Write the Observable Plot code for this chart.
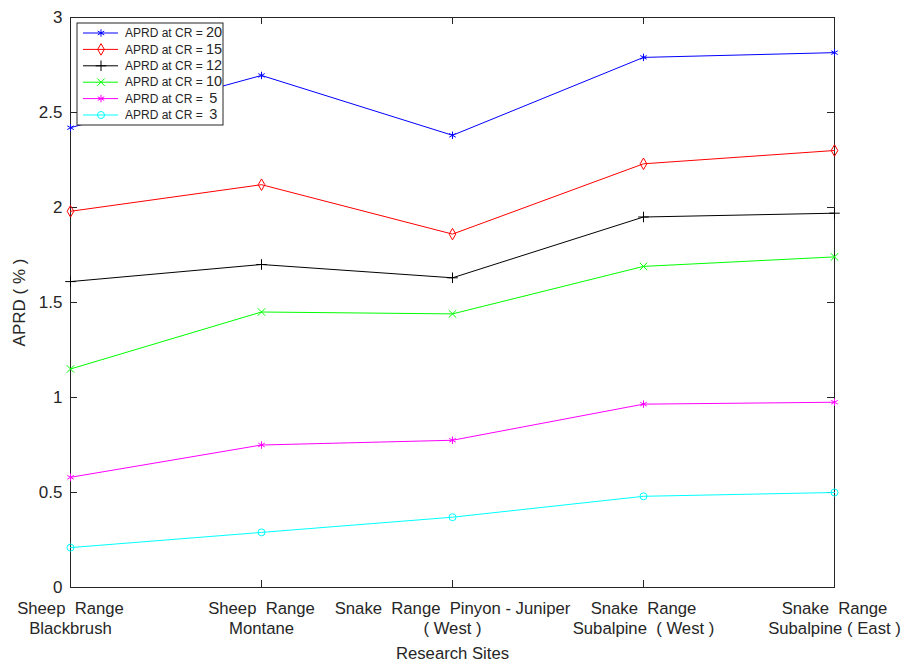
<!DOCTYPE html>
<html>
<head>
<meta charset="utf-8">
<script src="https://cdn.jsdelivr.net/npm/d3@7"></script>
<script src="https://cdn.jsdelivr.net/npm/@observablehq/plot@0.6"></script>
<style>
  html, body { margin: 0; padding: 0; background: #fff; }
  #chart { position: relative; width: 901px; height: 661px; }
</style>
</head>
<body>
<div id="chart"></div>
<script>
const sites = [
  "Sheep  Range\nBlackbrush",
  "Sheep  Range\nMontane",
  "Snake  Range  Pinyon - Juniper\n( West )",
  "Snake  Range\nSubalpine  ( West )",
  "Snake  Range\nSubalpine ( East )"
];
const siteIndex = [1, 2, 3, 4, 5];
const cr20 = [2.42, 2.695, 2.38, 2.79, 2.815];
const cr15 = [1.98, 2.12, 1.86, 2.23, 2.30];
const cr12 = [1.61, 1.70, 1.63, 1.95, 1.97];
const cr10 = [1.15, 1.45, 1.44, 1.69, 1.74];
const cr5  = [0.58, 0.75, 0.775, 0.965, 0.975];
const cr3  = [0.21, 0.29, 0.37, 0.48, 0.50];
const seriesNames = ["APRD at CR = 20", "APRD at CR = 15", "APRD at CR = 12", "APRD at CR = 10", "APRD at CR =  5", "APRD at CR =  3"];
const seriesValues = [cr20, cr15, cr12, cr10, cr5, cr3];
const seriesColors = ["#0000ff", "#ff0000", "#000000", "#00ff00", "#ff00ff", "#00ffff"];
const seriesSymbols = ["asterisk", "diamond", "plus", "times", "asterisk", "circle"];
const yTicks = [0, 0.5, 1, 1.5, 2, 2.5, 3];

const W = 901, H = 661;
const mL = 70, mR = 67, mT = 17, mB = 74;
const pw = W - mL - mR, ph = H - mT - mB;
const font = "'Liberation Sans', Arial, sans-serif";

const marks = [];
seriesValues.forEach((vals, k) => {
  const rows = vals.map((v, i) => ({x: siteIndex[i], y: v}));
  marks.push(Plot.line(rows, {x: "x", y: "y", stroke: seriesColors[k], strokeWidth: 1}));
  marks.push(Plot.dot(rows, {x: "x", y: "y", symbol: () => seriesSymbols[k], stroke: seriesColors[k], fill: "none", r: 3.5, strokeWidth: 1}));
});

const plot = Plot.plot({
  width: W, height: H,
  marginLeft: mL, marginRight: mR, marginTop: mT, marginBottom: mB,
  style: {fontFamily: font, fontSize: "17px", color: "#262626", background: "#fff"},
  x: {domain: [1, 5]},
  y: {domain: [0, 3]},
  symbol: {type: "identity"},
  marks: [
    Plot.axisY(yTicks, {anchor: "left", tickSize: 0, tickPadding: 8, fontSize: 17, tickFormat: d => String(d),
      label: "APRD ( % )", labelAnchor: "center", labelOffset: 58, labelArrow: "none"}),
    Plot.axisX(siteIndex, {anchor: "bottom", tickSize: 0, tickPadding: 13, fontSize: 16.7, lineHeight: 1.17,
      tickFormat: i => sites[i - 1], label: "Research Sites", labelAnchor: "center", labelOffset: 71, labelArrow: "none"}),
    Plot.tickY(yTicks, {y: d => d, insetRight: pw - 7, stroke: "#262626"}),
    Plot.tickY(yTicks, {y: d => d, insetLeft: pw - 7, stroke: "#262626"}),
    Plot.tickX(siteIndex, {x: d => d, insetTop: ph - 7, stroke: "#262626"}),
    Plot.tickX(siteIndex, {x: d => d, insetBottom: ph - 7, stroke: "#262626"}),
    Plot.frame({stroke: "#262626", strokeWidth: 1}),
    ...marks
  ]
});
document.getElementById("chart").appendChild(plot);

// legend inside the plot area
const svg = d3.select(plot);
const lg = svg.append("g").attr("transform", "translate(77,23)");
lg.append("rect").attr("x", 0).attr("y", 0).attr("width", 146).attr("height", 102)
  .attr("fill", "#fff").attr("stroke", "#262626").attr("stroke-width", 1);
const symMap = {asterisk: d3.symbolAsterisk, diamond: d3.symbolDiamond, plus: d3.symbolPlus, times: d3.symbolTimes, circle: d3.symbolCircle};
seriesNames.forEach((name, k) => {
  const yy = 10 + k * 16.4;
  lg.append("line").attr("x1", 6).attr("x2", 41).attr("y1", yy).attr("y2", yy)
    .attr("stroke", seriesColors[k]).attr("stroke-width", 1);
  lg.append("path").attr("transform", `translate(24,${yy})`)
    .attr("d", d3.symbol(symMap[seriesSymbols[k]], 3.5 * 3.5 * Math.PI)())
    .attr("fill", "none").attr("stroke", seriesColors[k]).attr("stroke-width", 1);
  const m = name.match(/^(.*=)(\s*)(\d+)$/);
  const t = lg.append("text").attr("x", 48).attr("y", yy).attr("dy", "0.35em")
    .attr("text-anchor", "start")
    .attr("font-family", font).attr("font-size", 12).attr("fill", "#262626")
    .attr("xml:space", "preserve");
  t.append("tspan").text(m[1] + (m[2].length > 1 ? "  " : " "));
  t.append("tspan").attr("font-size", 14.5).text(m[3]);
});
</script>
</body>
</html>
